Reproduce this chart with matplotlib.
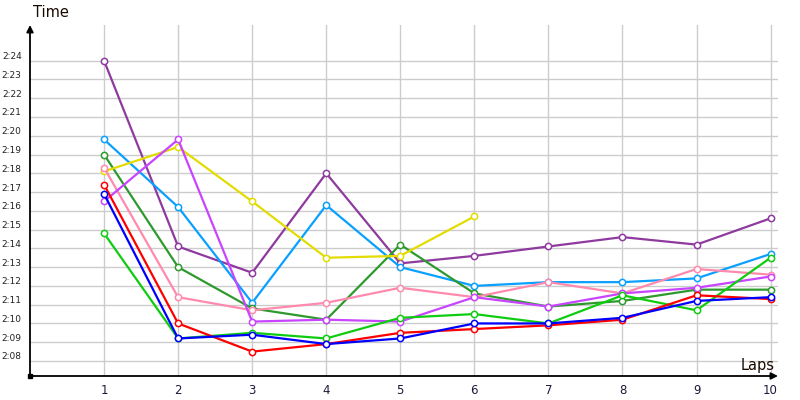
import matplotlib.pyplot as plt
import matplotlib.transforms as mtransforms

# lap times in seconds
laps = [1, 2, 3, 4, 5, 6, 7, 8, 9, 10]

purple = [144.0, 134.1, 132.7, 138.0, 133.2, 133.6, 134.1, 134.6, 134.2, 135.6]
skyblue = [139.8, 136.2, 131.1, 136.3, 133.0, 132.0, 132.2, 132.2, 132.4, 133.7]
darkgreen = [139.0, 133.0, 130.8, 130.2, 134.2, 131.6, 130.9, 131.2, 131.8, 131.8]
yellow = [138.1, 139.4, 136.5, 133.5, 133.6, 135.7]
pink = [138.3, 131.4, 130.7, 131.1, 131.9, 131.4, 132.2, 131.6, 132.9, 132.6]
red = [137.4, 130.0, 128.5, 128.9, 129.5, 129.7, 129.9, 130.2, 131.5, 131.3]
blue = [136.9, 129.2, 129.4, 128.9, 129.2, 130.0, 130.0, 130.3, 131.2, 131.4]
violet = [136.5, 139.8, 130.1, 130.2, 130.1, 131.4, 130.9, 131.6, 131.9, 132.5]
green = [134.8, 129.2, 129.5, 129.2, 130.3, 130.5, 130.0, 131.5, 130.7, 133.5]

series = [
    (purple, "#8e3a9e"),
    (skyblue, "#0aa0ff"),
    (darkgreen, "#2e9a2e"),
    (yellow, "#e2dc00"),
    (pink, "#ff8aae"),
    (violet, "#c844ff"),
    (green, "#10cc10"),
    (red, "#ff0000"),
    (blue, "#0000ff"),
]

ytick_vals = list(range(128, 145))
ytick_labels = ["2:%02d" % (v - 120) for v in ytick_vals]

fig = plt.figure(figsize=(8, 4), dpi=100)
ax = fig.add_axes([0.0375, 0.06, 0.935, 0.8775])
ax.set_xlim(0, 10.1)
ax.set_ylim(127.2, 145.9)

# grid
for v in ytick_vals:
    ax.axhline(v, color="#cccccc", lw=1, zorder=0)
for x in laps:
    ax.axvline(x, color="#cccccc", lw=1, zorder=0)

for vals, col in series:
    ax.plot(laps[:len(vals)], vals, color=col, lw=1.6, marker="o", ms=4.5,
            mfc="white", mec=col, mew=1.1, zorder=3)

for s in ax.spines.values():
    s.set_visible(False)

ax.set_xticks(laps)
ax.set_xticklabels([str(l) for l in laps], fontsize=8.5, color="#1a1a3a")
ax.set_yticks(ytick_vals)
ax.set_yticklabels(ytick_labels, fontsize=6.5, color="#222222")
ax.tick_params(length=0)
ax.tick_params(axis="x", pad=6)
ax.tick_params(axis="y", pad=6)
off = mtransforms.ScaledTranslation(0, 5 / 100, fig.dpi_scale_trans)
for lab in ax.get_yticklabels():
    lab.set_transform(lab.get_transform() + off)

# axes with arrows
ax.annotate("", xy=(1.0, 0), xytext=(0, 0), xycoords="axes fraction",
            arrowprops=dict(arrowstyle="-|>", color="black", lw=1.3,
                            mutation_scale=10, shrinkA=0, shrinkB=0),
            annotation_clip=False)
ax.annotate("", xy=(0, 1.0), xytext=(0, 0), xycoords="axes fraction",
            arrowprops=dict(arrowstyle="-|>", color="black", lw=1.3,
                            mutation_scale=10, shrinkA=0, shrinkB=0),
            annotation_clip=False)
ax.plot([0], [0], marker="s", ms=3.5, color="black", transform=ax.transAxes,
        clip_on=False, zorder=5)

fig.text(0.041, 0.95, "Time", fontsize=10.5, color="#1a0a00", va="bottom")
fig.text(0.968, 0.068, "Laps", fontsize=10.5, color="#1a0a00", ha="right", va="bottom")

fig.savefig("out.png", dpi=100)
